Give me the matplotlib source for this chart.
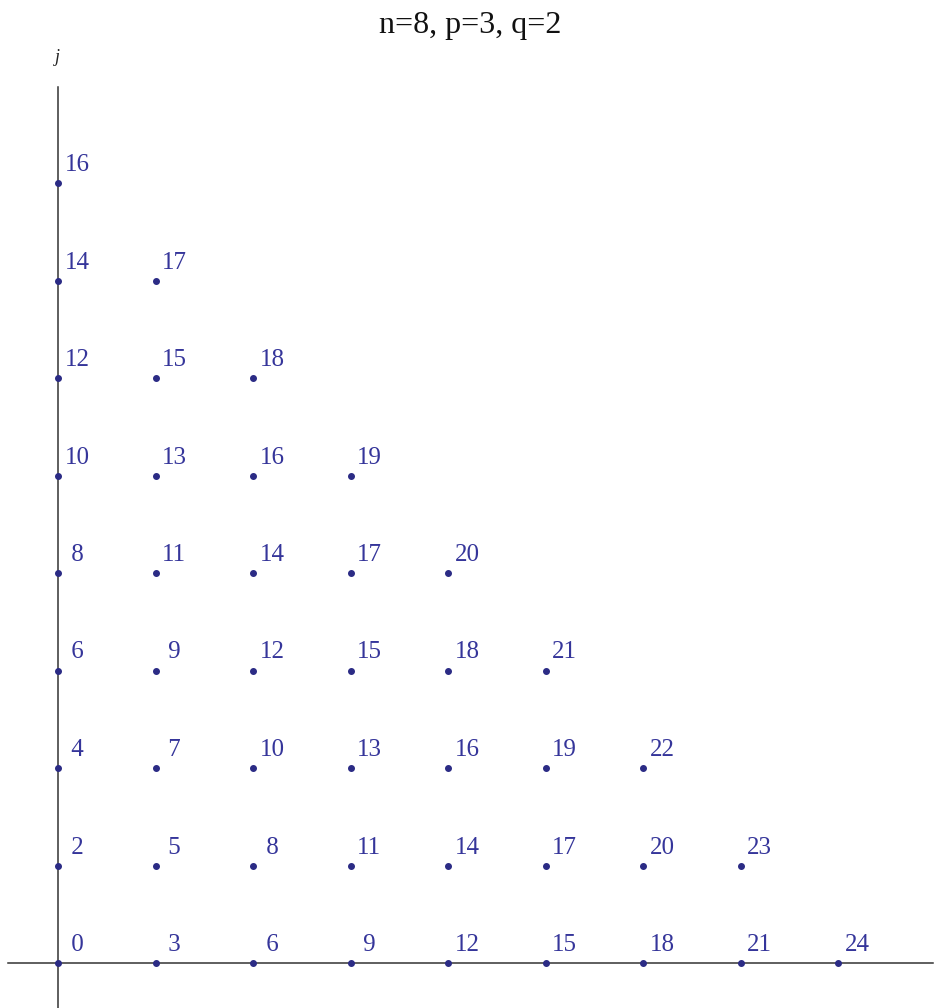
import matplotlib.pyplot as plt

# n=8, p=3, q=2 : points (i, j) with i + j <= n, labelled by p*i + q*j
title = "n=8, p=3, q=2"
row_labels = [
    [0, 3, 6, 9, 12, 15, 18, 21, 24],   # j = 0
    [2, 5, 8, 11, 14, 17, 20, 23],      # j = 1
    [4, 7, 10, 13, 16, 19, 22],         # j = 2
    [6, 9, 12, 15, 18, 21],             # j = 3
    [8, 11, 14, 17, 20],                # j = 4
    [10, 13, 16, 19],                   # j = 5
    [12, 15, 18],                       # j = 6
    [14, 17],                           # j = 7
    [16],                               # j = 8
]

fig = plt.figure(figsize=(9.52, 10.08), dpi=100)
ax = fig.add_axes([0, 0, 1, 1])
ax.set_xlim(-58 / 97.5, (952 - 58) / 97.5)
ax.set_ylim(-45 / 97.5, 963 / 97.5)
ax.axis("off")

# axes lines
ax.plot([-50 / 97.5, 875 / 97.5], [0, 0], color="#333333", lw=1.1, zorder=1)
ax.plot([0, 0], [-0.47, 876 / 97.5], color="#333333", lw=1.1, zorder=1)
ax.text(-0.01, 905 / 97.5, "j", family="Liberation Serif", style="italic",
        fontsize=13, ha="center", va="center", color="#222222")

dot_color = "#2b2b85"
text_color = "#35359a"
for j, labels in enumerate(row_labels):
    for i, lab in enumerate(labels):
        ax.plot(i, j, "o", ms=4, color=dot_color, zorder=3)
        ax.text(i + 6.5 / 97.5, j + 12 / 97.5, f"{lab:>2}", family="Liberation Serif",
                fontsize=18, color=text_color, ha="left", va="baseline")

fig.text(470 / 952, 1 - 33 / 1008, title, family="Liberation Serif",
         fontsize=23, ha="center", va="baseline", color="#111111")

plt.savefig("out.png", dpi=100)
